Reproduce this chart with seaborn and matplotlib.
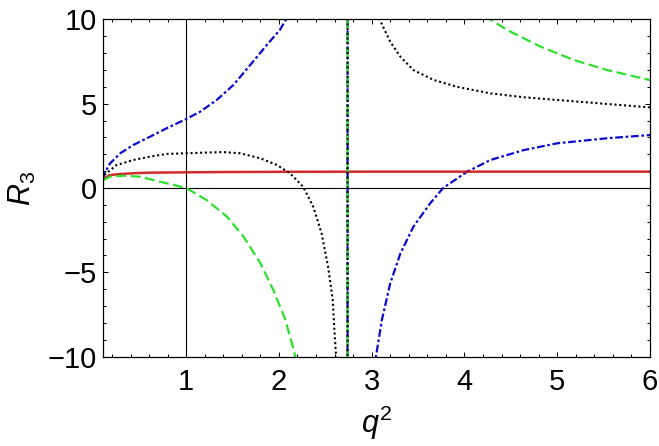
import numpy as np
import pandas as pd
import matplotlib
matplotlib.use('Agg')
import matplotlib.pyplot as plt
import seaborn as sns

# values (the pole sits at q^2 ~ 2.74)
red_x = [0.1, 0.13, 0.18, 0.29, 0.45, 0.61, 0.8, 1.0, 1.5, 2.0, 3.0, 4.0, 5.0, 6.0]
red_y = [0.45, 0.62, 0.77, 0.83, 0.88, 0.91, 0.92, 0.93, 0.95, 0.96, 0.97, 0.97, 0.97, 0.97]

green_x = [0.1, 0.18, 0.32, 0.5, 0.72, 1.0, 1.22, 1.44, 1.62, 1.8, 1.94, 2.07, 2.15, 2.19, 2.74,
           2.74, 4.26, 4.46, 4.82, 5.18, 5.54, 6.0]
green_y = [0.45, 0.67, 0.73, 0.67, 0.37, 0.0, -0.71, -1.70, -2.89, -4.46, -6.05, -7.82, -9.41, -10.3, -1000,
           1000, 10.05, 9.37, 8.38, 7.59, 6.99, 6.40]

blue_x = [0.1, 0.12, 0.18, 0.29, 0.43, 0.61, 0.79, 1.0, 1.15, 1.33, 1.51, 1.69, 1.87, 2.01, 2.1, 2.74,
          2.74, 3.04, 3.11, 3.2, 3.31, 3.45, 3.63, 3.77, 4.03, 4.28, 4.64, 5.0, 5.54, 6.0]
blue_y = [0.5, 0.87, 1.46, 2.06, 2.55, 3.04, 3.54, 4.09, 4.52, 5.22, 6.11, 7.29, 8.48, 9.37, 10.2, 1000,
          -1000, -10.2, -7.82, -5.65, -3.87, -2.29, -0.91, 0.0, 0.97, 1.66, 2.25, 2.65, 2.95, 3.14]

black_x = [0.1, 0.12, 0.25, 0.43, 0.61, 0.79, 1.0, 1.15, 1.4, 1.58, 1.8, 1.98, 2.12, 2.26, 2.37, 2.46,
           2.53, 2.58, 2.6, 2.62, 2.74,
           2.74, 3.08, 3.2, 3.31, 3.45, 3.67, 3.92, 4.28, 4.64, 5.0, 5.54, 6.0]
black_y = [0.5, 0.78, 1.36, 1.66, 1.86, 2.02, 2.06, 2.09, 2.13, 2.06, 1.76, 1.36, 0.87, 0.08, -1.11, -2.69,
           -4.66, -6.64, -8.61, -10.3, -1000,
           1000, 10.05, 8.67, 7.78, 6.99, 6.40, 6.00, 5.61, 5.38, 5.22, 4.98, 4.78]

x_ticks = [1, 2, 3, 4, 5, 6]
y_ticks = [-10, -5, 0, 5, 10]

sns.set_style("ticks")
plt.rcParams['font.family'] = ['Liberation Sans', 'DejaVu Sans']
plt.rcParams['mathtext.fontset'] = 'custom'
plt.rcParams['mathtext.rm'] = 'Liberation Sans'
plt.rcParams['mathtext.it'] = 'Liberation Sans:italic'
plt.rcParams['text.color'] = 'black'
plt.rcParams['axes.labelcolor'] = 'black'
plt.rcParams['xtick.color'] = 'black'
plt.rcParams['ytick.color'] = 'black'
plt.rcParams['axes.edgecolor'] = 'black'

fig = plt.figure(figsize=(6.59, 4.46), dpi=100)
ax = fig.add_axes([0.1558, 0.2002, 0.8305, 0.7565])

# Mathematica style axes crossing at (1, 0)
ax.axvline(1, color='black', lw=0.8, zorder=1)
ax.axhline(0, color='black', lw=0.8, zorder=1)

blue = pd.DataFrame({'x': blue_x, 'y': blue_y})
sns.lineplot(data=blue, x='x', y='y', sort=False, estimator=None, ax=ax,
             color='#0a0acc', lw=1.6, linestyle=(0, (3.5, 1.2, 1.2, 1.2)))

red = pd.DataFrame({'x': red_x, 'y': red_y})
sns.lineplot(data=red, x='x', y='y', sort=False, estimator=None, ax=ax,
             color='#cc1414', lw=1.8, alpha=0.9)

green = pd.DataFrame({'x': green_x, 'y': green_y})
sns.lineplot(data=green, x='x', y='y', sort=False, estimator=None, ax=ax,
             color='#2ee02e', lw=1.6, linestyle=(0, (4.5, 2.0)))

black = pd.DataFrame({'x': black_x, 'y': black_y})
sns.lineplot(data=black, x='x', y='y', sort=False, estimator=None, ax=ax,
             color='black', lw=1.5, linestyle=(0, (1.0, 1.3)))

ax.set_xlim(0.1, 6)
ax.set_ylim(-10, 10)
ax.set_xticks(x_ticks)
ax.set_yticks(y_ticks)
ax.set_xticks(np.arange(0.2, 6.01, 0.2), minor=True)
ax.set_yticks(np.arange(-10, 10.01, 1), minor=True)
ax.tick_params(which='both', direction='in', top=True, right=True, width=0.7)
ax.tick_params(which='major', length=3.5, labelsize=21)
ax.tick_params(which='minor', length=2)
ax.tick_params(axis='x', pad=8)
ax.tick_params(axis='y', pad=4)
for s in ax.spines.values():
    s.set_linewidth(0.9)

ax.set_xlabel(r'$q^2$', fontsize=22, labelpad=6)
ax.set_ylabel(r'$R_3$', fontsize=22, labelpad=7)

fig.savefig('out.png', dpi=100)
